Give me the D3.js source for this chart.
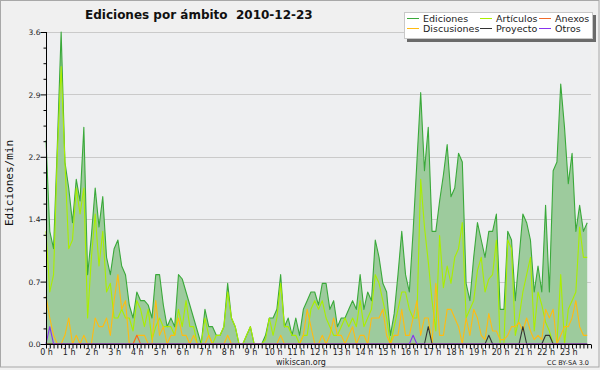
<!DOCTYPE html>
<html><head><meta charset="utf-8">
<script src="https://cdn.jsdelivr.net/npm/d3@7"></script>
<style>
body{margin:0;background:#f0f0f0;}
svg{display:block;font-family:"DejaVu Sans",sans-serif;}
</style>
</head><body>
<svg id="chart" width="600" height="370"></svg>
<script>
const hourLabels = ["0 h","1 h","2 h","3 h","4 h","5 h","6 h","7 h","8 h","9 h","10 h","11 h","12 h","13 h","14 h","15 h","16 h","17 h","18 h","19 h","20 h","21 h","22 h","23 h"];
const yTickLabels = ["0.0","0.7","1.4","2.2","2.9","3.6"];
const seriesNames = ["Ediciones","Artículos","Anexos","Discusiones","Proyecto","Otros"];

const ediciones = [2.35,1.3,1.1,2.3,3.6,2.1,1.8,1.4,1.9,1.65, 2.5,0.8,1.25,1.8,1.35,1.7,1.0,0.8,1.1,1.2, 0.9,0.8,0.45,0.3,0.6,0.5,0.5,0.45,0.3,0.8, 0.8,0.45,0.2,0.3,0.2,0.8,0.75,0.6,0.45,0.3, 0.15,0,0.4,0.2,0.2,0.1,0.1,0.2,0.7,0.3, 0.2,0,0,0.1,0.2,0,0,0,0.1,0.3, 0.3,0.4,0.8,0.2,0.3,0.1,0.3,0.1,0.4,0.5, 0.6,0.6,0.45,0.7,0.7,0.4,0.5,0.2,0.3,0.3, 0.4,0.5,0.4,0.8,0.4,0.6,0.5,1.2,1.0,0.7, 0.6,0.1,0.35,0.8,1.3,0.8,0.6,1.3,2.1,2.9, 2.0,2.5,1.3,1.3,1.65,1.95,2.3,1.7,1.8,2.2, 2.1,0.7,0.5,1.0,1.4,1.2,1.0,1.3,1.3,1.5, 0.4,0.4,1.3,1.2,0.5,1.0,1.5,1.4,1.2,0.6, 0.9,0.6,1.6,0.6,2.0,2.1,3.0,2.5,1.85,2.2, 1.3,1.6,1.3,1.4];
const articulos = [1.3,0.6,0.8,2.2,3.2,2.1,1.1,1.2,1.8,1.5, 1.8,0.3,1.0,1.5,0.9,1.3,0.6,0.7,0.3,0.3, 0.4,0.3,0.3,0.15,0.5,0.4,0.2,0.4,0.05,0.2, 0.3,0.2,0.2,0.2,0.1,0.4,0.2,0.5,0.2,0.2, 0,0,0.3,0.1,0,0.1,0.1,0.2,0.6,0.3, 0.2,0,0,0.1,0.2,0,0,0,0.05,0.3, 0.1,0.3,0.7,0.2,0.2,0.1,0.1,0,0.1,0.1, 0.4,0.5,0.4,0.5,0.3,0.2,0.1,0.1,0.2,0.3, 0.2,0.3,0.2,0.5,0.2,0.3,0.4,0.8,0.7,0.5, 0.3,0,0.2,0.4,0.6,0.6,0.4,0.3,0.3,1.9, 1.35,0.95,0.5,0.15,1.25,0.65,0.9,0.7,1.0,1.1, 1.4,0.3,0.4,0.5,0.85,1.0,0.6,0.75,0.8,1.2, 0,0,1.2,1.1,0.1,0.3,0.6,0.8,1.0,0.15, 0.6,0.45,0.25,0.15,0,0,0.8,0,0.4,0.5, 0.6,1.35,1.0,1.0];
const discusiones = [0.55,0.3,0.1,0,0,0.1,0.3,0,0.1,0, 0.1,0,0,0.3,0.2,0.2,0.3,0.1,0.5,0.8, 0.4,0.5,0,0,0.1,0.1,0.1,0,0,0.5, 0.1,0.2,0,0.1,0.1,0.3,0.1,0.1,0,0.1, 0,0,0,0.1,0,0,0,0,0.1,0, 0,0,0,0,0,0,0,0,0,0, 0,0,0.1,0,0,0,0,0,0.1,0.4, 0.2,0,0,0.1,0,0.1,0.3,0.1,0.1,0, 0.1,0.2,0,0.1,0.1,0,0.3,0.3,0.3,0.4, 0.1,0,0.1,0.1,0.4,0.1,0.1,0.3,0.5,0.1, 0.3,0.3,0,0.7,0.1,0.1,0.4,0.4,0.3,0.2, 0,0.3,0.1,0.4,0.3,0.1,0.05,0.35,0.15,0.15, 0.05,0.05,0.1,0.2,0.2,0.25,0.15,0.3,0.15,0.05, 0.1,0.05,0.4,0.3,0.4,0,0.1,0.2,0.2,0.3, 0.5,0.2,0.1,0.1];
const anexos = [0,0,0,0,0,0,0,0,0,0, 0,0,0,0,0,0,0,0,0,0, 0,0,0,0,0.1,0,0,0,0,0, 0,0,0,0,0,0,0,0,0,0, 0,0,0,0,0,0,0,0,0,0, 0,0,0,0,0,0,0,0,0,0, 0,0,0,0,0,0,0,0,0,0, 0,0,0,0,0,0,0,0,0,0, 0,0,0,0,0,0,0,0,0,0, 0,0,0,0,0,0,0,0,0,0, 0,0,0,0,0,0,0,0,0,0, 0,0,0,0,0,0,0,0,0,0, 0,0,0,0,0,0,0,0,0,0, 0,0,0,0,0,0,0,0,0,0, 0,0,0,0];
const proyecto = [0,0,0,0,0,0,0,0,0,0, 0,0,0,0,0,0,0,0,0,0, 0,0,0,0,0,0,0,0,0,0, 0,0,0,0,0,0,0,0,0,0, 0,0,0,0,0,0,0,0,0,0, 0,0,0,0,0,0,0,0,0,0, 0,0,0,0,0,0,0,0,0,0, 0,0,0,0,0,0,0,0,0,0, 0,0,0,0,0,0,0,0,0,0, 0,0,0,0,0,0,0,0,0,0, 0,0.2,0,0,0,0,0,0,0,0, 0,0,0,0,0,0,0,0.1,0,0, 0,0,0,0,0,0,0.2,0,0,0, 0,0,0.1,0.1,0,0,0,0,0,0, 0,0,0,0];
const otros = [0,0.2,0,0,0,0,0,0,0,0, 0,0,0,0,0,0,0,0,0,0, 0,0,0,0,0,0,0,0,0,0, 0,0,0,0,0,0,0,0,0,0, 0,0,0,0,0,0,0,0,0,0, 0,0,0,0,0,0,0,0,0,0, 0,0,0,0,0,0,0,0,0,0, 0,0,0,0,0,0,0,0,0,0, 0,0,0,0,0,0,0,0,0,0, 0,0,0,0,0,0,0,0.1,0,0, 0,0,0,0,0,0,0,0,0,0, 0,0,0,0,0,0,0,0,0,0, 0,0,0,0,0,0,0,0,0,0, 0,0,0,0,0,0,0,0,0,0, 0,0,0,0];

const colors = {Ediciones:"#3aa93a", Artículos:"#aaee00", Anexos:"#f06a2a", Discusiones:"#ffbb11", Proyecto:"#333333", Otros:"#8833ee"};
const fillColor = "#9dcb9d";

const svg = d3.select("#chart");
const X0 = 46, X1 = 591, Y0 = 344, Y1 = 32;
const x = d3.scaleLinear().domain([0, 144]).range([X0, X1]);
const y = d3.scaleLinear().domain([0, 3.6]).range([Y0, Y1]);

// background & border
svg.append("rect").attr("x",0.5).attr("y",0.5).attr("width",598.5).attr("height",366.5)
  .attr("fill","#f0f0f0").attr("stroke","#a8a8a8");
svg.append("rect").attr("x",X0).attr("y",Y1).attr("width",X1-X0).attr("height",Y0-Y1).attr("fill","#eeeff1");

// grid
const majorY = d3.range(0, 6).map(k => k * 0.72);
svg.append("g").selectAll("line").data(majorY.slice(1)).join("line")
  .attr("x1", X0).attr("x2", X1).attr("y1", d => Math.round(y(d))+0.5).attr("y2", d => Math.round(y(d))+0.5)
  .attr("stroke", "#cacaca").attr("stroke-width", 1);

// area
const idx = d3.range(ediciones.length);
const area = d3.area().x(i => x(i)).y0(y(0)).y1(i => y(ediciones[i]));
svg.append("path").datum(idx).attr("d", area).attr("fill", fillColor);

const line = arr => d3.line().x(i => x(i)).y(i => y(arr[i]));
const drawLine = (arr, col) => svg.append("path").datum(idx).attr("d", line(arr))
  .attr("fill","none").attr("stroke", col).attr("stroke-width", 1.1).attr("stroke-linejoin","round");

drawLine(ediciones, colors.Ediciones);
drawLine(articulos, colors["Artículos"]);
drawLine(discusiones, colors.Discusiones);
drawLine(anexos, colors.Anexos);
drawLine(proyecto, colors.Proyecto);
drawLine(otros, colors.Otros);

// y axis
const yTicks = d3.range(0, 21).map(k => k * 0.18);
const yAxis = d3.axisLeft(y).tickValues(yTicks)
  .tickSize(0).tickFormat((d,i) => i % 4 === 0 ? yTickLabels[i/4] : "");
const gy = svg.append("g").attr("transform", `translate(${X0+0.5},0)`).call(yAxis);
gy.select(".domain").remove();
gy.selectAll(".tick line").remove();
gy.selectAll(".tick").each(function(d,i){
  d3.select(this).append("line").attr("x1", i%4===0 ? -6 : -3).attr("x2",0)
    .attr("stroke","#000").attr("stroke-width",1);
});
gy.selectAll("text").attr("x",-6).attr("dy","0.35em").attr("font-size","7.5px")
  .attr("font-family","DejaVu Sans, sans-serif").attr("fill","#222");
gy.append("line").attr("x1",0).attr("x2",0).attr("y1",Y1).attr("y2",Y0+0.5).attr("stroke","#000");

// x axis
const xAxis = d3.axisBottom(x).tickValues(d3.range(0, 145)).tickSize(0)
  .tickFormat(d => d % 6 === 0 ? (hourLabels[d/6] || "") : "");
const gx = svg.append("g").attr("transform", `translate(0,${Y0+0.5})`).call(xAxis);
gx.select(".domain").remove();
gx.selectAll(".tick").each(function(){
  d3.select(this).append("line").attr("y1",0).attr("y2",4).attr("stroke","#000").attr("stroke-width",1);
});
gx.selectAll("text").attr("y",5).attr("dy","0.71em").attr("font-size","8px")
  .attr("font-family","DejaVu Sans, sans-serif").attr("fill","#222");
gx.append("line").attr("x1",X0).attr("x2",X1).attr("y1",0).attr("y2",0).attr("stroke","#000");

// titles
svg.append("text").attr("x",85).attr("y",19).attr("font-size","12px").attr("font-weight","bold")
  .attr("fill","#111").text("Ediciones por ámbito  2010-12-23").attr("xml:space","preserve");
svg.append("text").attr("transform","translate(13,183) rotate(-90)").attr("text-anchor","middle")
  .attr("font-family","DejaVu Sans Mono, monospace").attr("font-size","11px").attr("fill","#111")
  .text("Ediciones/min");
svg.append("text").attr("x",301).attr("y",365).attr("text-anchor","middle").attr("font-size","8px")
  .attr("fill","#222").text("wikiscan.org");
svg.append("text").attr("x",589).attr("y",365).attr("text-anchor","end").attr("font-size","6.5px")
  .attr("fill","#222").text("CC BY-SA 3.0");

// legend
const lg = svg.append("g");
lg.append("rect").attr("x",407).attr("y",15).attr("width",189).attr("height",27).attr("fill","#6a6a6a");
lg.append("rect").attr("x",404.5).attr("y",12.5).attr("width",188).attr("height",26).attr("fill","#fff").attr("stroke","#c8c8c8");
const colX = [407, 480, 539];
const rowY = [18.5, 28.5];
seriesNames.forEach((name, k) => {
  const c = k % 3, r = Math.floor(k / 3);
  lg.append("line").attr("x1",colX[c]).attr("x2",colX[c]+12).attr("y1",rowY[r]).attr("y2",rowY[r])
    .attr("stroke", colors[name]).attr("stroke-width",1);
  lg.append("text").attr("x",colX[c]+16).attr("y",rowY[r]+3.5).attr("font-size","9.5px").attr("fill","#222").text(name);
});
</script>
</body></html>
